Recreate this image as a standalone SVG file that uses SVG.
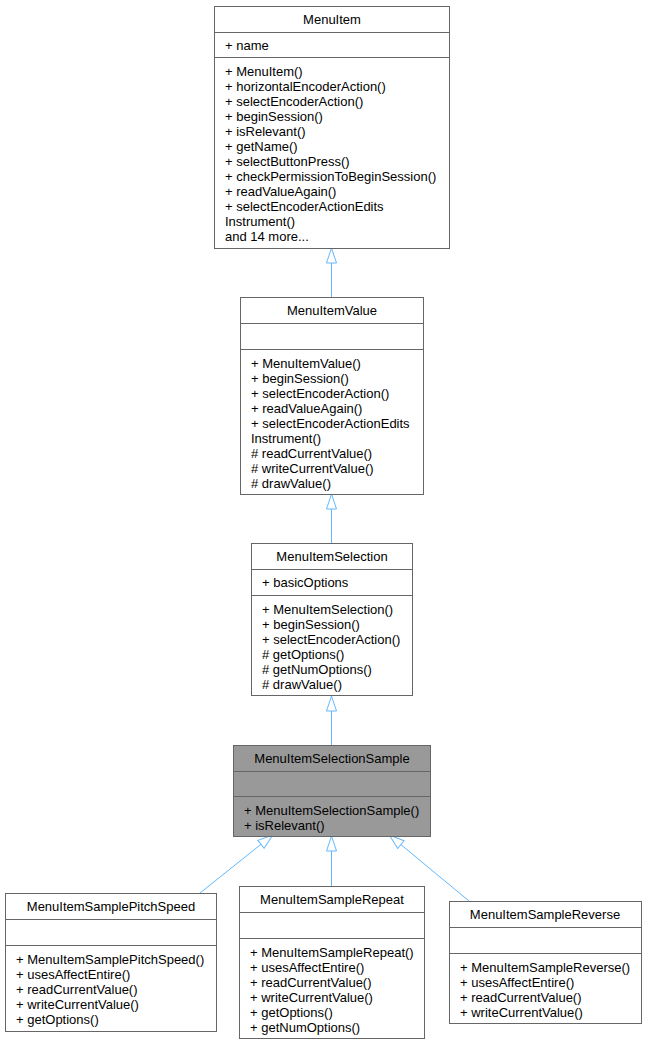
<svg xmlns="http://www.w3.org/2000/svg" width="647" height="1044" viewBox="0 0 647 1044">
<style>
.box{fill:#ffffff;stroke:#666666;stroke-width:1}
.hl{fill:#999999;stroke:#666666;stroke-width:1}
.div{stroke:#666666;stroke-width:1}
text{font-family:"Liberation Sans",Arial,sans-serif;font-size:13px;fill:#000000}
.t{text-anchor:middle}
.edge{fill:none;stroke:#63b8ff;stroke-width:1;marker-end:url(#inh)}
</style>
<defs>
<marker id="inh" markerUnits="userSpaceOnUse" viewBox="-1 -1 17 12" refX="0" refY="5" markerWidth="17" markerHeight="12" orient="auto">
<path d="M0,0 L15,5 L0,10 Z" fill="#ffffff" stroke="#63b8ff" stroke-width="1"/>
</marker>
</defs>
<rect width="647" height="1044" fill="#ffffff"/>
<g id="connectors">
<path class="edge" d="M331.5,297 L331.5,263"/>
<path class="edge" d="M331.5,543 L331.5,509"/>
<path class="edge" d="M331.5,745 L331.5,711"/>
<path class="edge" d="M331.5,886 L331.5,851"/>
<path class="edge" d="M200,893 L261,844.3"/>
<path class="edge" d="M469,901 L400.9,844.6"/>
</g>
<g id="MenuItem">
<rect class="box" x="214.5" y="6.5" width="235" height="242"/>
<line class="div" x1="214.5" y1="32.5" x2="449.5" y2="32.5"/>
<line class="div" x1="214.5" y1="57.5" x2="449.5" y2="57.5"/>
<text class="t" x="332" y="24">MenuItem</text>
<text x="225" y="49.5">+ name</text>
<text x="225" y="76">+ MenuItem()</text>
<text x="225" y="91">+ horizontalEncoderAction()</text>
<text x="225" y="106">+ selectEncoderAction()</text>
<text x="225" y="121">+ beginSession()</text>
<text x="225" y="136">+ isRelevant()</text>
<text x="225" y="151">+ getName()</text>
<text x="225" y="166">+ selectButtonPress()</text>
<text x="225" y="181">+ checkPermissionToBeginSession()</text>
<text x="225" y="196">+ readValueAgain()</text>
<text x="225" y="211">+ selectEncoderActionEdits</text>
<text x="225" y="226">Instrument()</text>
<text x="225" y="241">and 14 more...</text>
</g>
<g id="MenuItemValue">
<rect class="box" x="240.5" y="297.5" width="183" height="197"/>
<line class="div" x1="240.5" y1="323.5" x2="423.5" y2="323.5"/>
<line class="div" x1="240.5" y1="349.5" x2="423.5" y2="349.5"/>
<text class="t" x="332" y="315">MenuItemValue</text>
<text x="251" y="368">+ MenuItemValue()</text>
<text x="251" y="383">+ beginSession()</text>
<text x="251" y="398">+ selectEncoderAction()</text>
<text x="251" y="413">+ readValueAgain()</text>
<text x="251" y="428">+ selectEncoderActionEdits</text>
<text x="251" y="443">Instrument()</text>
<text x="251" y="458"># readCurrentValue()</text>
<text x="251" y="473"># writeCurrentValue()</text>
<text x="251" y="488"># drawValue()</text>
</g>
<g id="MenuItemSelection">
<rect class="box" x="251.5" y="543.5" width="161" height="152"/>
<line class="div" x1="251.5" y1="569.5" x2="412.5" y2="569.5"/>
<line class="div" x1="251.5" y1="595.5" x2="412.5" y2="595.5"/>
<text class="t" x="332" y="561">MenuItemSelection</text>
<text x="262" y="586.5">+ basicOptions</text>
<text x="262" y="614">+ MenuItemSelection()</text>
<text x="262" y="629">+ beginSession()</text>
<text x="262" y="644">+ selectEncoderAction()</text>
<text x="262" y="659"># getOptions()</text>
<text x="262" y="674"># getNumOptions()</text>
<text x="262" y="689"># drawValue()</text>
</g>
<g id="MenuItemSelectionSample">
<rect class="hl" x="233.5" y="745.5" width="197" height="91"/>
<line class="div" x1="233.5" y1="771.5" x2="430.5" y2="771.5"/>
<line class="div" x1="233.5" y1="796.5" x2="430.5" y2="796.5"/>
<text class="t" x="332" y="763">MenuItemSelectionSample</text>
<text x="244" y="815">+ MenuItemSelectionSample()</text>
<text x="244" y="830">+ isRelevant()</text>
</g>
<g id="MenuItemSamplePitchSpeed">
<rect class="box" x="5.5" y="893.5" width="211" height="138"/>
<line class="div" x1="5.5" y1="919.5" x2="216.5" y2="919.5"/>
<line class="div" x1="5.5" y1="945.5" x2="216.5" y2="945.5"/>
<text class="t" x="111" y="911">MenuItemSamplePitchSpeed</text>
<text x="16" y="964">+ MenuItemSamplePitchSpeed()</text>
<text x="16" y="979">+ usesAffectEntire()</text>
<text x="16" y="994">+ readCurrentValue()</text>
<text x="16" y="1009">+ writeCurrentValue()</text>
<text x="16" y="1024">+ getOptions()</text>
</g>
<g id="MenuItemSampleRepeat">
<rect class="box" x="239.5" y="886.5" width="185" height="152"/>
<line class="div" x1="239.5" y1="912.5" x2="424.5" y2="912.5"/>
<line class="div" x1="239.5" y1="938.5" x2="424.5" y2="938.5"/>
<text class="t" x="332" y="904">MenuItemSampleRepeat</text>
<text x="250" y="957">+ MenuItemSampleRepeat()</text>
<text x="250" y="972">+ usesAffectEntire()</text>
<text x="250" y="987">+ readCurrentValue()</text>
<text x="250" y="1002">+ writeCurrentValue()</text>
<text x="250" y="1017">+ getOptions()</text>
<text x="250" y="1032">+ getNumOptions()</text>
</g>
<g id="MenuItemSampleReverse">
<rect class="box" x="449.5" y="901.5" width="192" height="122"/>
<line class="div" x1="449.5" y1="927.5" x2="641.5" y2="927.5"/>
<line class="div" x1="449.5" y1="953.5" x2="641.5" y2="953.5"/>
<text class="t" x="545" y="919">MenuItemSampleReverse</text>
<text x="460" y="972">+ MenuItemSampleReverse()</text>
<text x="460" y="987">+ usesAffectEntire()</text>
<text x="460" y="1002">+ readCurrentValue()</text>
<text x="460" y="1017">+ writeCurrentValue()</text>
</g>
</svg>
